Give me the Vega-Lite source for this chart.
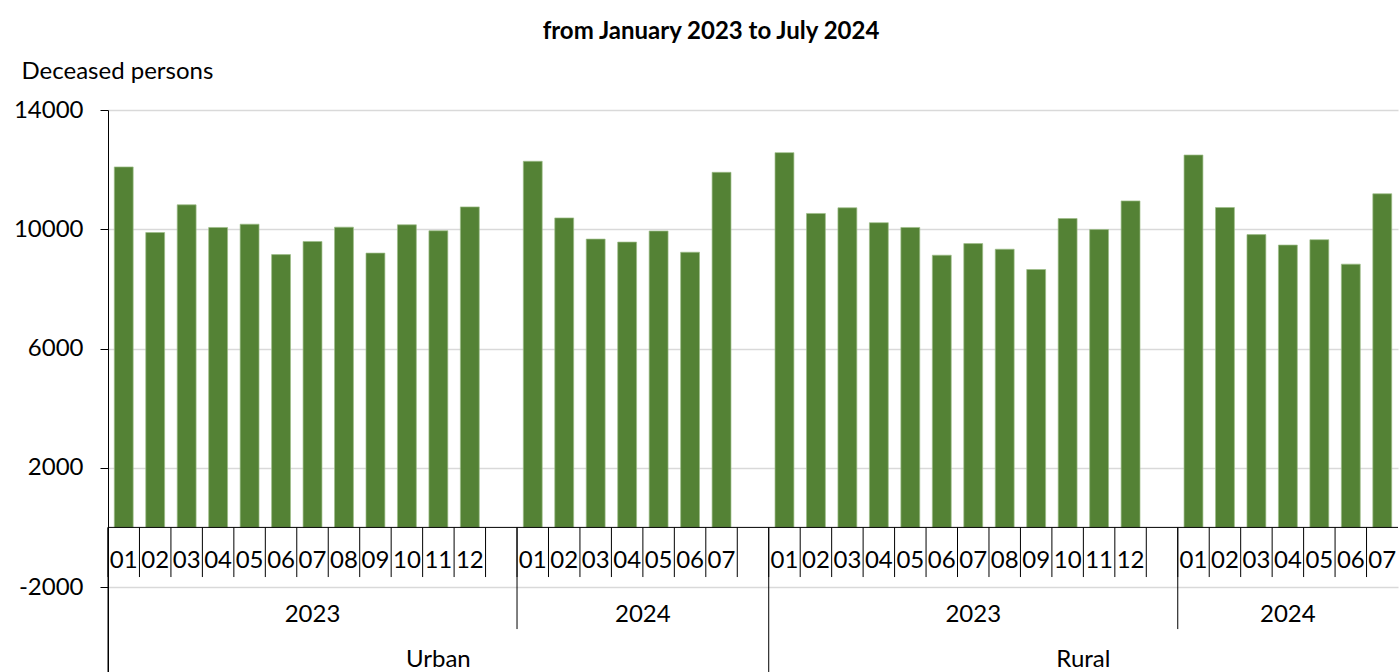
{
  "$schema": "https://vega.github.io/schema/vega-lite/v6.json",
  "width": 1290,
  "height": 562,
  "autosize": {"type": "none"},
  "padding": {"left": 108, "top": 110, "right": 1, "bottom": 0},
  "background": "white",
  "title": {"text": "from January 2023 to July 2024", "font": "Lato", "fontSize": 24, "fontWeight": "bold", "color": "#000000", "anchor": "middle", "dx": -42, "offset": 15},
  "config": {"view": {"stroke": null}, "font": "Lato"},
  "datasets": {
    "slots": [
      {"slot": "Urban 2023 01", "region": "Urban", "year": "2023", "month": "01", "deaths": 12090},
      {"slot": "Urban 2023 02", "region": "Urban", "year": "2023", "month": "02", "deaths": 9890},
      {"slot": "Urban 2023 03", "region": "Urban", "year": "2023", "month": "03", "deaths": 10820},
      {"slot": "Urban 2023 04", "region": "Urban", "year": "2023", "month": "04", "deaths": 10060},
      {"slot": "Urban 2023 05", "region": "Urban", "year": "2023", "month": "05", "deaths": 10170},
      {"slot": "Urban 2023 06", "region": "Urban", "year": "2023", "month": "06", "deaths": 9150},
      {"slot": "Urban 2023 07", "region": "Urban", "year": "2023", "month": "07", "deaths": 9590},
      {"slot": "Urban 2023 08", "region": "Urban", "year": "2023", "month": "08", "deaths": 10070},
      {"slot": "Urban 2023 09", "region": "Urban", "year": "2023", "month": "09", "deaths": 9200},
      {"slot": "Urban 2023 10", "region": "Urban", "year": "2023", "month": "10", "deaths": 10150},
      {"slot": "Urban 2023 11", "region": "Urban", "year": "2023", "month": "11", "deaths": 9950},
      {"slot": "Urban 2023 12", "region": "Urban", "year": "2023", "month": "12", "deaths": 10750},
      {"slot": "Urban 2023 --", "region": "Urban", "year": "2023", "month": "", "deaths": null},
      {"slot": "Urban 2024 01", "region": "Urban", "year": "2024", "month": "01", "deaths": 12280},
      {"slot": "Urban 2024 02", "region": "Urban", "year": "2024", "month": "02", "deaths": 10380},
      {"slot": "Urban 2024 03", "region": "Urban", "year": "2024", "month": "03", "deaths": 9670},
      {"slot": "Urban 2024 04", "region": "Urban", "year": "2024", "month": "04", "deaths": 9570},
      {"slot": "Urban 2024 05", "region": "Urban", "year": "2024", "month": "05", "deaths": 9940},
      {"slot": "Urban 2024 06", "region": "Urban", "year": "2024", "month": "06", "deaths": 9230},
      {"slot": "Urban 2024 07", "region": "Urban", "year": "2024", "month": "07", "deaths": 11910},
      {"slot": "Urban 2024 --", "region": "Urban", "year": "2024", "month": "", "deaths": null},
      {"slot": "Rural 2023 01", "region": "Rural", "year": "2023", "month": "01", "deaths": 12570},
      {"slot": "Rural 2023 02", "region": "Rural", "year": "2023", "month": "02", "deaths": 10530},
      {"slot": "Rural 2023 03", "region": "Rural", "year": "2023", "month": "03", "deaths": 10720},
      {"slot": "Rural 2023 04", "region": "Rural", "year": "2023", "month": "04", "deaths": 10220},
      {"slot": "Rural 2023 05", "region": "Rural", "year": "2023", "month": "05", "deaths": 10060},
      {"slot": "Rural 2023 06", "region": "Rural", "year": "2023", "month": "06", "deaths": 9130},
      {"slot": "Rural 2023 07", "region": "Rural", "year": "2023", "month": "07", "deaths": 9520},
      {"slot": "Rural 2023 08", "region": "Rural", "year": "2023", "month": "08", "deaths": 9330},
      {"slot": "Rural 2023 09", "region": "Rural", "year": "2023", "month": "09", "deaths": 8650},
      {"slot": "Rural 2023 10", "region": "Rural", "year": "2023", "month": "10", "deaths": 10360},
      {"slot": "Rural 2023 11", "region": "Rural", "year": "2023", "month": "11", "deaths": 9990},
      {"slot": "Rural 2023 12", "region": "Rural", "year": "2023", "month": "12", "deaths": 10950},
      {"slot": "Rural 2023 --", "region": "Rural", "year": "2023", "month": "", "deaths": null},
      {"slot": "Rural 2024 01", "region": "Rural", "year": "2024", "month": "01", "deaths": 12490},
      {"slot": "Rural 2024 02", "region": "Rural", "year": "2024", "month": "02", "deaths": 10730},
      {"slot": "Rural 2024 03", "region": "Rural", "year": "2024", "month": "03", "deaths": 9820},
      {"slot": "Rural 2024 04", "region": "Rural", "year": "2024", "month": "04", "deaths": 9470},
      {"slot": "Rural 2024 05", "region": "Rural", "year": "2024", "month": "05", "deaths": 9650},
      {"slot": "Rural 2024 06", "region": "Rural", "year": "2024", "month": "06", "deaths": 8830},
      {"slot": "Rural 2024 07", "region": "Rural", "year": "2024", "month": "07", "deaths": 11190}
    ]
  },
  "data": {"name": "slots"},
  "layer": [
    {
      "transform": [{"filter": "isValid(datum.deaths)"}],
      "mark": {"type": "bar", "width": {"band": 0.6}, "color": "#548235", "stroke": "#9dbd88", "strokeWidth": 0.7},
      "encoding": {
        "x": {
          "field": "slot", "type": "nominal", "axis": null,
          "scale": {
            "paddingInner": 0, "paddingOuter": 0,
            "domain": ["Urban 2023 01","Urban 2023 02","Urban 2023 03","Urban 2023 04","Urban 2023 05","Urban 2023 06","Urban 2023 07","Urban 2023 08","Urban 2023 09","Urban 2023 10","Urban 2023 11","Urban 2023 12","Urban 2023 --",
                       "Urban 2024 01","Urban 2024 02","Urban 2024 03","Urban 2024 04","Urban 2024 05","Urban 2024 06","Urban 2024 07","Urban 2024 --",
                       "Rural 2023 01","Rural 2023 02","Rural 2023 03","Rural 2023 04","Rural 2023 05","Rural 2023 06","Rural 2023 07","Rural 2023 08","Rural 2023 09","Rural 2023 10","Rural 2023 11","Rural 2023 12","Rural 2023 --",
                       "Rural 2024 01","Rural 2024 02","Rural 2024 03","Rural 2024 04","Rural 2024 05","Rural 2024 06","Rural 2024 07"]
          }
        },
        "y": {
          "field": "deaths", "type": "quantitative",
          "scale": {"domain": [-4850, 14000], "nice": false, "zero": false},
          "axis": {
            "title": "Deceased persons",
            "values": [-2000, 2000, 6000, 10000, 14000],
            "labelExpr": "'' + datum.value",
            "grid": true, "gridColor": "#d9d9d9", "gridWidth": 1.3,
            "domainColor": "#000000", "domainWidth": 1,
            "tickColor": "#000000", "tickSize": 8, "tickWidth": 1,
            "labelFont": "Lato", "labelFontSize": 24, "labelColor": "#000000", "labelPadding": 17, "labelFlush": false,
            "titleFont": "Lato", "titleFontSize": 24, "titleFontWeight": "normal", "titleColor": "#000000",
            "titleAngle": 0, "titleAlign": "left", "titleBaseline": "alphabetic", "titleX": -87, "titleY": -32
          }
        }
      }
    },
    {
      "mark": {"type": "rule", "color": "#000000", "strokeWidth": 1},
      "encoding": {
        "x": {"field": "slot", "type": "nominal", "bandPosition": 0},
        "y": {"datum": 0, "type": "quantitative"},
        "y2": {"datum": -1665}
      }
    },
    {
      "transform": [{"filter": "datum.month == '01' && datum.year == '2024'"}],
      "mark": {"type": "rule", "color": "#000000", "strokeWidth": 1},
      "encoding": {
        "x": {"field": "slot", "type": "nominal", "bandPosition": 0},
        "y": {"datum": 0, "type": "quantitative"},
        "y2": {"datum": -3410}
      }
    },
    {
      "transform": [{"filter": "datum.month == '01' && datum.year == '2023'"}],
      "mark": {"type": "rule", "color": "#000000", "strokeWidth": 1},
      "encoding": {
        "x": {"field": "slot", "type": "nominal", "bandPosition": 0},
        "y": {"datum": 0, "type": "quantitative"},
        "y2": {"datum": -4850}
      }
    },
    {
      "data": {"values": [{}]},
      "mark": {"type": "rule", "color": "#000000", "strokeWidth": 1},
      "encoding": {
        "y": {"datum": 0, "type": "quantitative"}
      }
    },
    {
      "transform": [{"filter": "datum.month != ''"}],
      "mark": {"type": "text", "font": "Lato", "fontSize": 24, "color": "#000000", "align": "center", "baseline": "alphabetic"},
      "encoding": {
        "x": {"field": "slot", "type": "nominal", "bandPosition": 0.5},
        "y": {"datum": -1372, "type": "quantitative"},
        "text": {"field": "month"}
      }
    },
    {
      "transform": [{"filter": "(datum.year == '2023' && datum.month == '07') || (datum.region == 'Rural' && datum.year == '2024' && datum.month == '04')"}],
      "mark": {"type": "text", "font": "Lato", "fontSize": 24, "color": "#000000", "align": "center", "baseline": "alphabetic"},
      "encoding": {
        "x": {"field": "slot", "type": "nominal", "bandPosition": 0.5},
        "y": {"datum": -3163, "type": "quantitative"},
        "text": {"field": "year"}
      }
    },
    {
      "transform": [{"filter": "datum.region == 'Urban' && datum.year == '2024' && datum.month == '05'"}],
      "mark": {"type": "text", "font": "Lato", "fontSize": 24, "color": "#000000", "align": "center", "baseline": "alphabetic"},
      "encoding": {
        "x": {"field": "slot", "type": "nominal", "bandPosition": 0},
        "y": {"datum": -3163, "type": "quantitative"},
        "text": {"field": "year"}
      }
    },
    {
      "transform": [{"filter": "datum.region == 'Urban' && datum.year == '2023' && datum.month == '11'"}],
      "mark": {"type": "text", "font": "Lato", "fontSize": 24, "color": "#000000", "align": "center", "baseline": "alphabetic"},
      "encoding": {
        "x": {"field": "slot", "type": "nominal", "bandPosition": 0.5},
        "y": {"datum": -4670, "type": "quantitative"},
        "text": {"field": "region"}
      }
    },
    {
      "transform": [{"filter": "datum.region == 'Rural' && datum.year == '2023' && datum.month == '11'"}],
      "mark": {"type": "text", "font": "Lato", "fontSize": 24, "color": "#000000", "align": "center", "baseline": "alphabetic"},
      "encoding": {
        "x": {"field": "slot", "type": "nominal", "bandPosition": 0},
        "y": {"datum": -4670, "type": "quantitative"},
        "text": {"field": "region"}
      }
    }
  ]
}
